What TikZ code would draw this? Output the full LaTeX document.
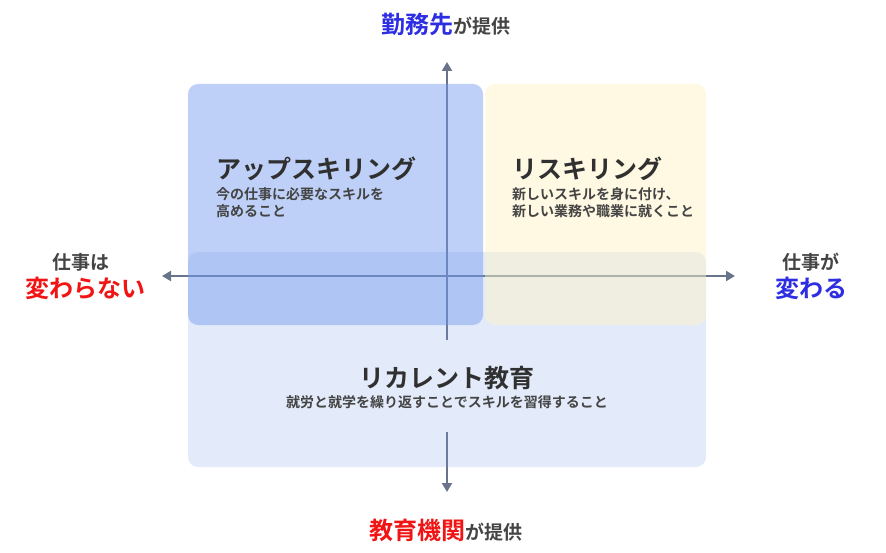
\documentclass[tikz,border=0pt]{standalone}
\usepackage{fontspec}
\setmainfont{Noto Sans CJK JP}[BoldFont={Noto Sans CJK JP Bold}]
\usetikzlibrary{arrows.meta}
\definecolor{axisgray}{RGB}{104,116,137}
\definecolor{upblue}{RGB}{114,153,238}
\definecolor{reyellow}{RGB}{255,242,195}
\definecolor{recblue}{RGB}{115,155,230}
\definecolor{txtdark}{RGB}{48,48,48}
\definecolor{txtgray}{RGB}{68,68,68}
\definecolor{hlred}{RGB}{240,20,20}
\definecolor{hlblue}{RGB}{45,45,225}
\tikzset{
  axisline/.style={draw=axisgray, line width=2.6pt},
  axtip/.style={-{Triangle[width=10pt,length=9pt]}},
  quadbox/.style={rounded corners=10pt},
  titletext/.style={inner sep=0pt, text=txtdark, font=\bfseries\fontsize{25}{30}\selectfont},
  subtext/.style={inner sep=0pt, text=txtgray, font=\bfseries\fontsize{14}{17}\selectfont},
  smalllabel/.style={inner sep=0pt, text=txtgray, font=\bfseries\fontsize{19}{22}\selectfont},
  biglabel/.style={inner sep=0pt, font=\bfseries\fontsize{24}{28}\selectfont}
}
\begin{document}
\begin{tikzpicture}[x=1pt,y=-1pt]
\useasboundingbox (0,0) rectangle (886,553);
% axis points
\coordinate (vt) at (447,62);
\coordinate (vb) at (447,492);
\coordinate (vg1) at (447,340);
\coordinate (vg2) at (447,432);
\coordinate (hl) at (162,276);
\coordinate (hr) at (735,276);
% axes
\draw[axisline,axtip] (vg1) -- (vt);
\draw[axisline,axtip] (vg2) -- (vb);
\draw[axisline,{Triangle[width=10pt,length=9pt]}-{Triangle[width=10pt,length=9pt]}] (hl) -- (hr);
% boxes
\fill[quadbox, recblue, fill opacity=0.2] (188,252) rectangle (706,467);
\fill[quadbox, upblue, fill opacity=0.46] (188,84) rectangle (483,325);
\fill[quadbox, reyellow, fill opacity=0.464] (485,84) rectangle (706,325);
% quadrant texts
\node[titletext, anchor=west] (up) at (216,169) {アップスキリング};
\node[subtext, anchor=west, align=left] (upd) at (216,202.5) {今の仕事に必要なスキルを\\高めること};
\node[titletext, anchor=west] (rs) at (512,169) {リスキリング};
\node[subtext, anchor=west, align=left] (rsd) at (512,202.5) {新しいスキルを身に付け、\\新しい業務や職業に就くこと};
\node[titletext] (rc) at (447,378) {リカレント教育};
\node[subtext] (rcd) at (447,402) {就労と就学を繰り返すことでスキルを習得すること};
% axis labels
\node[biglabel] (top) at (446,24) {\textcolor{hlblue}{勤務先}\textcolor{txtgray}{\fontsize{19}{22}\selectfont が提供}};
\node[biglabel] (bot) at (446,530) {\textcolor{hlred}{教育機関}\textcolor{txtgray}{\fontsize{19}{22}\selectfont が提供}};
\node[smalllabel] (lt) at (81,262) {仕事は};
\node[biglabel, text=hlred] (lb) at (85,288) {変わらない};
\node[smalllabel] (rt) at (811,262) {仕事が};
\node[biglabel, text=hlblue] (rb) at (811,288) {変わる};
\end{tikzpicture}
\end{document}
